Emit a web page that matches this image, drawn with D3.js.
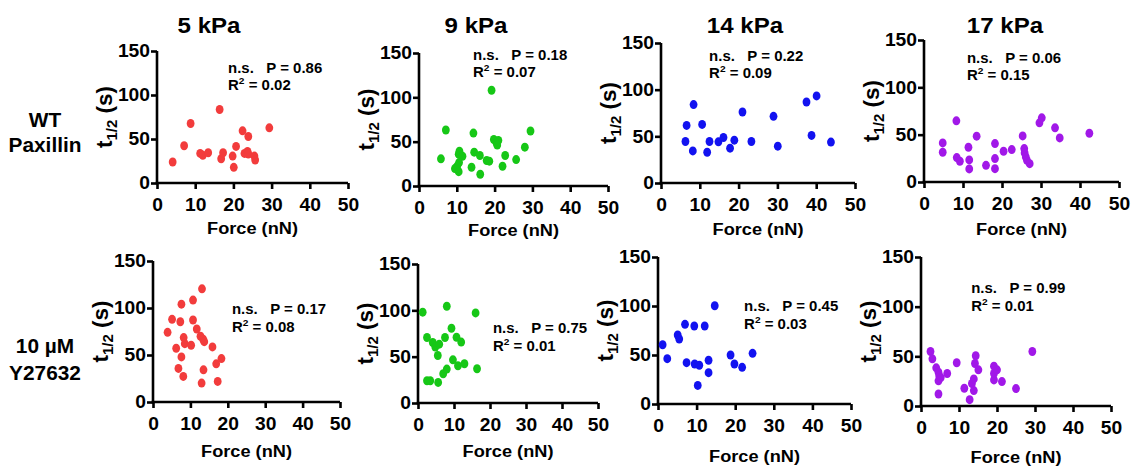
<!DOCTYPE html>
<html>
<head>
<meta charset="utf-8">
<script src="https://cdn.jsdelivr.net/npm/d3@7"></script>
<style>
  html, body { margin: 0; padding: 0; background: #fff; }
  svg { display: block; font-family: "Liberation Sans", Arial, sans-serif; font-weight: bold; }
</style>
</head>
<body>
<svg id="chart" width="1133" height="469"></svg>
<script>
// ---------- DATA ----------
const columnTitles = ["5 kPa", "9 kPa", "14 kPa", "17 kPa"];
const rowLabels = [["WT", "Paxillin"], ["10 µM", "Y27632"]];
const xTicks = [0, 10, 20, 30, 40, 50];
const yTicks = [0, 50, 100, 150];
const xLabel = "Force (nN)";
const pValues = ["0.86", "0.18", "0.22", "0.06", "0.17", "0.75", "0.45", "0.99"];
const r2Values = ["0.02", "0.07", "0.09", "0.15", "0.08", "0.01", "0.03", "0.01"];

// WT Paxillin
const wt5Force = [4.1, 7.1, 8.8, 11.3, 12.0, 13.4, 16.4, 16.8, 17.3, 19.8, 20.1, 20.7, 22.4, 22.9, 23.9, 23.7, 23.9, 25.5, 25.7, 29.4];
const wt5T = [23.8, 42.3, 67.6, 33.6, 31.4, 34.4, 83.5, 27.6, 34.4, 30.6, 17.8, 41.6, 59.3, 33.6, 52.9, 35.9, 32.9, 30.6, 26.1, 62.7];

const wt9Force = [5.8, 7.1, 10.7, 10.5, 11.5, 10.6, 10.1, 9.5, 10.5, 13.9, 14.4, 14.6, 16.1, 16.2, 17.9, 18.6, 19.2, 19.8, 20.5, 21.0, 20.7, 22.1, 22.8, 25.7, 28.0, 29.5];
const wt9T = [30.6, 63.1, 39.3, 35.9, 33.6, 26.4, 22.3, 19.6, 16.2, 21.2, 59.7, 38.2, 34.4, 13.2, 28.7, 28.0, 108, 52.5, 48.7, 51.4, 46.1, 22.3, 34.4, 29.8, 43.8, 62.0];

const wt14Force = [6.3, 6.6, 8.4, 8.2, 10.6, 11.9, 12.5, 14.8, 16.1, 17.8, 18.9, 21.0, 23.3, 29.0, 30.1, 37.5, 40.1, 38.8, 43.8];
const wt14T = [44.5, 61.7, 84.0, 34.4, 62.8, 33.0, 44.5, 44.1, 48.8, 37.3, 45.9, 76.1, 44.5, 71.4, 39.5, 86.8, 93.3, 51.0, 43.8];

const wt17Force = [4.8, 4.8, 8.3, 8.4, 9.2, 11.4, 11.6, 11.6, 13.5, 15.9, 18.2, 18.2, 18.2, 20.4, 22.5, 25.3, 25.7, 25.8, 26.1, 26.4, 27.1, 29.6, 30.2, 33.6, 34.8, 42.4];
const wt17T = [41.3, 31.4, 64.6, 25.8, 21.9, 36.7, 23.3, 13.8, 48.4, 17.6, 40.6, 24.7, 14.1, 32.5, 34.2, 48.7, 35.3, 30.7, 26.5, 22.9, 19.4, 62.5, 67.8, 57.2, 46.6, 51.5];

// 10 µM Y27632
const y5Force = [3.9, 5.1, 6.2, 6.8, 7.3, 7.6, 7.6, 8.1, 8.2, 8.5, 10.2, 10.7, 10.7, 11.7, 12.7, 13.1, 13.0, 13.4, 13.5, 13.7, 15.9, 16.9, 17.3, 18.3];
const y5T = [74.1, 87.9, 57.2, 35.7, 85.4, 104.1, 48.0, 27.2, 68.5, 62.1, 60.4, 108.4, 87.2, 77.7, 69.9, 120.4, 20.1, 66.7, 34.2, 64.2, 58.6, 40.6, 21.9, 46.2];

const y9Force = [1.3, 2.5, 2.5, 3.4, 4.1, 4.8, 5.5, 5.6, 5.9, 7.0, 7.5, 8.0, 8.0, 9.3, 9.7, 10.7, 11.1, 12.0, 12.9, 16.0, 16.4];
const y9T = [98.0, 70.7, 24.0, 24.0, 65.3, 60.3, 51.3, 22.2, 63.5, 31.6, 70.7, 36.6, 104.4, 80.7, 46.6, 71.0, 40.2, 65.7, 42.3, 97.2, 37.0];

const y14Force = [1.2, 2.4, 5.1, 5.5, 7.0, 7.4, 9.4, 9.5, 10.3, 10.7, 12.1, 13.1, 13.1, 14.7, 18.8, 19.8, 21.8, 24.5];
const y14T = [60.5, 46.3, 70.4, 66.3, 81.3, 42.2, 79.6, 40.8, 19.0, 39.5, 79.6, 44.6, 32.0, 100.3, 50.0, 40.8, 37.4, 51.7];

const y17Force = [2.5, 3.0, 4.0, 4.6, 4.8, 4.6, 5.2, 4.6, 6.9, 9.4, 11.4, 12.8, 13.4, 13.9, 13.9, 14.4, 14.2, 15.1, 19.2, 19.2, 19.2, 20.0, 21.3, 25.0, 29.3];
const y17T = [54.9, 47.5, 38.4, 34.0, 30.3, 25.3, 28.6, 12.1, 32.7, 43.5, 17.9, 6.4, 22.6, 27.3, 15.5, 50.6, 42.8, 36.4, 40.1, 32.7, 26.3, 36.4, 24.6, 17.5, 54.9];

const seriesX = [wt5Force, wt9Force, wt14Force, wt17Force, y5Force, y9Force, y14Force, y17Force];
const seriesY = [wt5T, wt9T, wt14T, wt17T, y5T, y9T, y14T, y17T];

// ---------- LAYOUT / STYLE ----------
const colors = ["#f23c3c", "#16c716", "#1212f0", "#a118e8"];
// per panel: left (x=0), right (x=50), bottom (y=0), top (y=150) in px
const panels = [
  {l: 157, r: 348, b: 183, t: 51},
  {l: 419, r: 608, b: 186, t: 53},
  {l: 661, r: 855, b: 183, t: 43},
  {l: 924, r: 1119, b: 182, t: 40},
  {l: 153, r: 340, b: 402, t: 261},
  {l: 418, r: 598, b: 403, t: 264},
  {l: 658, r: 851, b: 404, t: 257},
  {l: 921, r: 1111, b: 406, t: 257}
];
// annotation anchor (in data units) for each panel: [x, y of first line, y of second line]
const annot = [
  [18.6, 125, 106], [14.3, 142, 123], [12.4, 131, 112.5], [11.0, 126, 108],
  [21.1, 94, 75], [20.8, 75.5, 56], [22.3, 95, 77], [13.2, 114, 95.6]
];
const xLabelOffset = [51, 50, 52, 53, 55, 54, 58, 57];
const titleX = [209, 476, 745, 1005];
const stretch = 1.07; // reference text is slightly wider than the font metrics

const svg = d3.select("#chart");

function wideText(sel, x, y, anchor) {
  return sel.append("text")
    .attr("transform", `translate(${x},${y}) scale(${stretch},1)`)
    .attr("text-anchor", anchor);
}

// column titles
columnTitles.forEach((t, i) => {
  wideText(svg, titleX[i], 33, "middle").attr("font-size", 22.5).text(t);
});

// row labels
const rowY = [[127, 152], [353, 380]];
rowLabels.forEach((lines, ri) => {
  lines.forEach((ln, li) => {
    wideText(svg, 45, rowY[ri][li], "middle").attr("font-size", 19.5).text(ln);
  });
});

panels.forEach((p, i) => {
  const col = i % 4;
  const x = d3.scaleLinear().domain([0, 50]).range([p.l, p.r]);
  const y = d3.scaleLinear().domain([0, 150]).range([p.b, p.t]);
  const g = svg.append("g");

  const xAxis = g.append("g").attr("transform", `translate(0,${p.b})`)
    .call(d3.axisBottom(x).tickValues(xTicks).tickFormat(d3.format("d")).tickSize(6).tickPadding(9).tickSizeOuter(0));
  const yAxis = g.append("g").attr("transform", `translate(${p.l},0)`)
    .call(d3.axisLeft(y).tickValues(yTicks).tickFormat(d3.format("d")).tickSize(6).tickPadding(1).tickSizeOuter(0));

  [xAxis, yAxis].forEach(a => {
    a.attr("font-family", null).attr("font-size", 18);
    a.select(".domain").attr("stroke", "#000").attr("stroke-width", 2.6);
    a.selectAll(".tick line").attr("stroke", "#000").attr("stroke-width", 2.6);
    a.selectAll(".tick text").attr("fill", "#000");
  });
  xAxis.selectAll(".tick text").attr("transform", `scale(${stretch},1)`)
    .attr("x", function () { return 0; });
  yAxis.selectAll(".tick text").each(function () {
    const t = d3.select(this);
    const xx = +t.attr("x");
    t.attr("x", xx / stretch).attr("transform", `scale(${stretch},1)`);
  });
  xAxis.select(".domain").attr("d", `M${p.l - 1.3},0H${p.r}`);
  yAxis.select(".domain").attr("d", `M0,${p.b + 1.3}V${p.t}`);

  // axis labels
  wideText(g, (p.l + p.r) / 2, p.b + xLabelOffset[i], "middle").attr("font-size", 17).text(xLabel);

  const yl = g.append("text")
    .attr("transform", `translate(${p.l - 45},${(p.b + p.t) / 2}) rotate(-90)`)
    .attr("text-anchor", "middle").attr("font-size", 22.5);
  yl.append("tspan").text("t");
  yl.append("tspan").attr("font-size", 15).attr("dy", 5).text("1/2");
  yl.append("tspan").attr("dy", -5).text(" (s)");

  // points
  const pts = seriesX[i].map((fx, k) => ({f: fx, t: seriesY[i][k]}));
  g.selectAll("ellipse").data(pts).join("ellipse")
    .attr("cx", d => x(d.f)).attr("cy", d => y(d.t))
    .attr("rx", 3.9).attr("ry", 4.5)
    .attr("fill", colors[col]);

  // stats annotation
  const a = annot[i];
  wideText(g, x(a[0]), y(a[1]), "start")
    .attr("font-size", 14).style("white-space", "pre")
    .text(`n.s.   P = ${pValues[i]}`);
  const r2 = wideText(g, x(a[0]), y(a[2]), "start").attr("font-size", 14);
  r2.append("tspan").text("R");
  r2.append("tspan").attr("font-size", 9.5).attr("dy", -6).text("2");
  r2.append("tspan").attr("dy", 6).style("white-space", "pre").text(` = ${r2Values[i]}`);
});
</script>
</body>
</html>
